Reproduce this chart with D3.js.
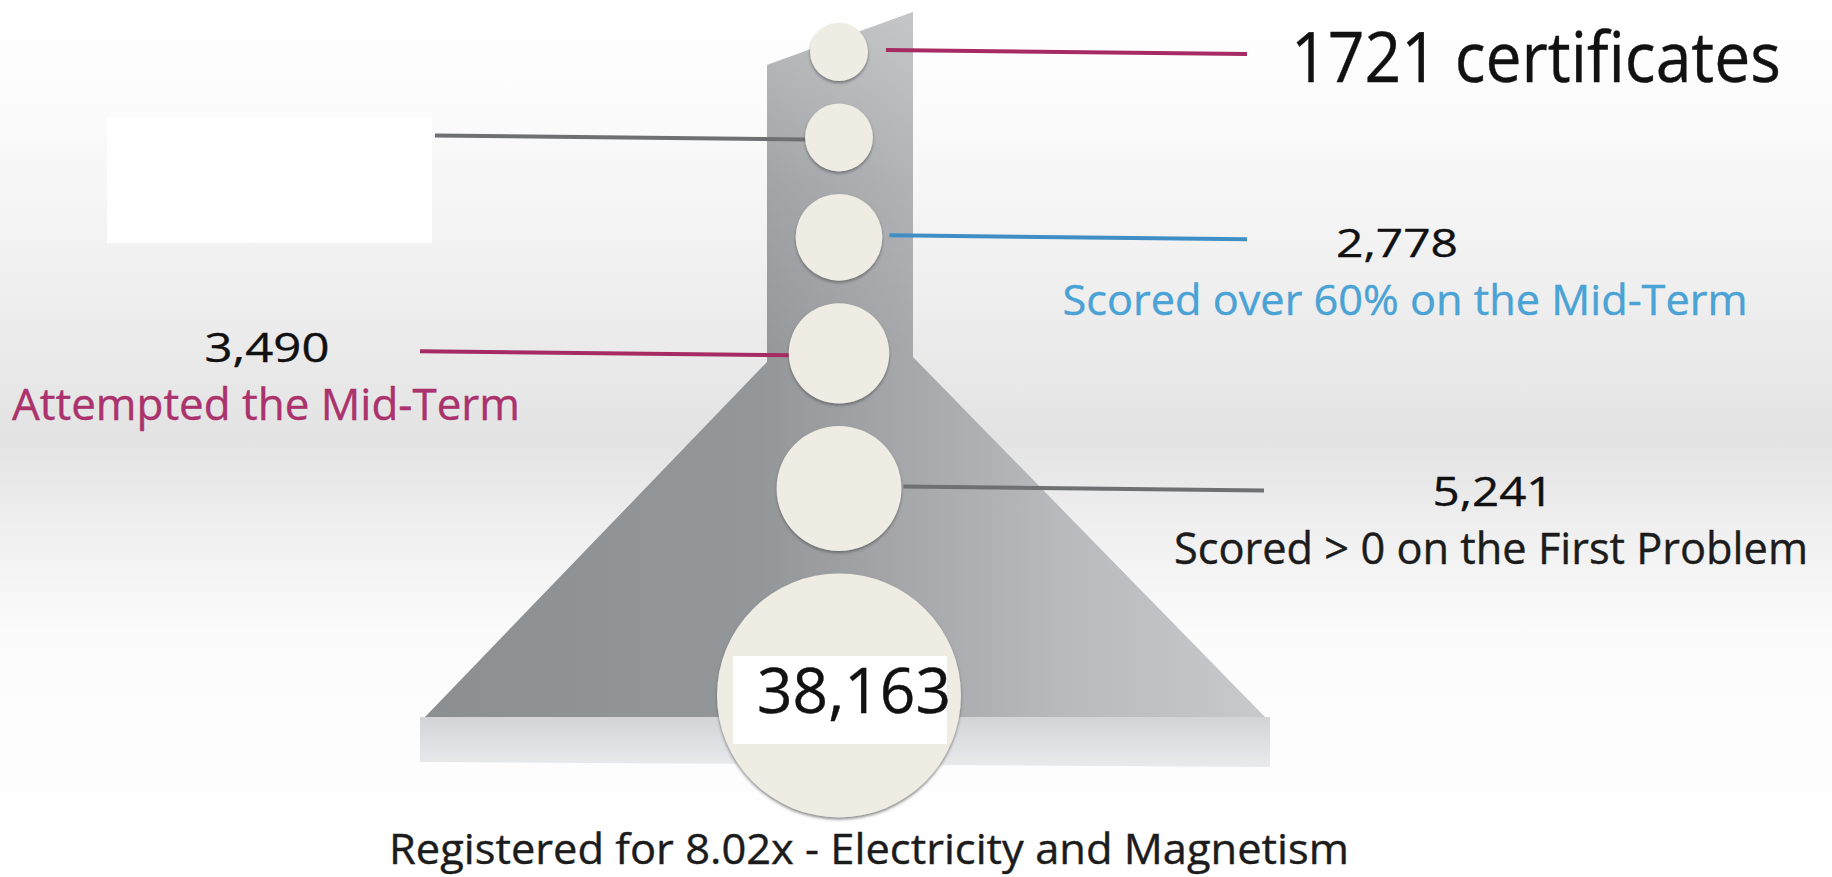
<!DOCTYPE html>
<html>
  <head>
    <meta charset="utf-8" />
    <title>8.02x funnel</title>
    <script src="https://d3js.org/d3.v7.min.js"></script>
    <style>
      html, body {
        margin: 0;
        padding: 0;
        background: #fff;
      }
      svg {
        display: block;
        font-family: "Open Sans", "Noto Sans", sans-serif;
      }
    </style>
  </head>
  <body>
    <svg width="1832" height="877"></svg>

    <script>
      // stages, top of the funnel first
      const stageCounts = [1721, 2030, 2778, 3490, 5241, 38163];
      const countLabels = ["1721 certificates", "", "2,778", "3,490", "5,241", "38,163"];
      const stageLabels = [
        "",
        "",
        "Scored over 60% on the Mid-Term",
        "Attempted the Mid-Term",
        "Scored > 0 on the First Problem",
        "Registered for 8.02x - Electricity and Magnetism"
      ];

      const magenta = "#a62b63";
      const blue = "#3f8fc6";
      const grey = "#6e7073";

      // where each stage's connector and texts sit
      const layout = [
        { side: "right", line: magenta, end: 1247, pad: 18,
          count: { x: 1291, y: 82, size: 70, w: 490, anchor: "start" } },
        { side: "left", line: grey, end: 435, pad: -2 },
        { side: "right", line: blue, end: 1247, pad: 7, count: { x: 1397, y: 257, size: 39, w: 122 },
          label: { x: 1405, y: 315, size: 42, w: 685, color: "#4aa2d5" } },
        { side: "left", line: magenta, end: 420, pad: -4, count: { x: 267, y: 362, size: 41, w: 125 },
          label: { x: 266, y: 420, size: 44, w: 508, color: "#ab326c" } },
        { side: "right", line: grey, end: 1264, pad: 2, count: { x: 1493, y: 506, size: 41, w: 121 },
          label: { x: 1491, y: 564, size: 43, w: 634, color: "#1c1c1c" } },
        { side: null, count: { x: 854, y: 713, size: 62, w: 194 },
          label: { x: 869, y: 864, size: 42, w: 960, color: "#1c1c1c" } }
      ];

      const svg = d3.select("svg");
      const width = +svg.attr("width");
      const height = +svg.attr("height");
      const defs = svg.append("defs");

      // background: white with a soft grey band across the middle
      const bg = defs.append("linearGradient").attr("id", "bg")
        .attr("gradientUnits", "userSpaceOnUse")
        .attr("x1", 0).attr("y1", 0).attr("x2", 0).attr("y2", height);
      [[0, "#ffffff"], [0.13, "#fbfbfb"], [0.33, "#efefef"], [0.5, "#e3e3e3"],
       [0.6, "#efefef"], [0.72, "#fbfbfb"], [1, "#ffffff"]]
        .forEach(([o, c]) => bg.append("stop").attr("offset", o).attr("stop-color", c));
      svg.append("rect").attr("width", width).attr("height", height).attr("fill", "url(#bg)");

      // funnel body
      const body = defs.append("linearGradient").attr("id", "body")
        .attr("gradientUnits", "userSpaceOnUse")
        .attr("x1", 425).attr("y1", 0).attr("x2", 1265).attr("y2", 0);
      [[0, "#8c8f92"], [0.4, "#94979a"], [0.55, "#a3a5a8"], [0.75, "#b8b9bd"], [1, "#c8c9cc"]]
        .forEach(([o, c]) => body.append("stop").attr("offset", o).attr("stop-color", c));

      const neckShade = defs.append("linearGradient").attr("id", "neck")
        .attr("x1", 0).attr("y1", 0).attr("x2", 0).attr("y2", 1);
      [[0, "#ffffff", 0.35], [0.5, "#ffffff", 0.12], [1, "#ffffff", 0]]
        .forEach(([o, c, a]) => neckShade.append("stop").attr("offset", o)
          .attr("stop-color", c).attr("stop-opacity", a));

      const slab = defs.append("linearGradient").attr("id", "slab")
        .attr("x1", 0).attr("y1", 0).attr("x2", 0).attr("y2", 1);
      [[0, "#d3d4d8"], [1, "#e9eaec"]]
        .forEach(([o, c]) => slab.append("stop").attr("offset", o).attr("stop-color", c));

      const line = d3.line();
      svg.append("path")
        .attr("d", line([[767, 65], [913, 12], [913, 357], [1265, 717], [425, 717], [767, 362]]) + "Z")
        .attr("fill", "url(#body)");
      svg.append("path")
        .attr("d", line([[767, 65], [913, 12], [913, 360], [767, 360]]) + "Z")
        .attr("fill", "url(#neck)");
      svg.append("path")
        .attr("d", line([[420, 717], [1270, 717], [1270, 767], [420, 762]]) + "Z")
        .attr("fill", "url(#slab)");

      // hidden label box on the left
      svg.append("rect")
        .attr("x", 107).attr("y", 117).attr("width", 325).attr("height", 126)
        .attr("fill", "#ffffff");

      // circles: size from the count, stacked down the funnel
      const r = d3.scaleLog().domain(d3.extent(stageCounts)).range([29, 122]);
      const cx = 839;
      const gap = 22.5;
      const cys = [];
      stageCounts.forEach((d, i) => {
        cys.push(i === 0 ? 23 + r(d) : cys[i - 1] + r(stageCounts[i - 1]) + gap + r(d));
      });

      const shadow = defs.append("filter").attr("id", "shadow")
        .attr("x", "-20%").attr("y", "-20%").attr("width", "140%").attr("height", "140%");
      shadow.append("feDropShadow").attr("dx", 0).attr("dy", 2).attr("stdDeviation", 1.6)
        .attr("flood-color", "#55575a").attr("flood-opacity", 0.7);

      // connectors
      svg.append("g").selectAll("line")
        .data(stageCounts.map((d, i) => i).filter(i => layout[i].side))
        .join("line")
        .attr("x1", i => layout[i].side === "right" ? cx + r(stageCounts[i]) + layout[i].pad : layout[i].end)
        .attr("x2", i => layout[i].side === "right" ? layout[i].end : cx - r(stageCounts[i]) - layout[i].pad)
        .attr("y1", i => cys[i] - 2)
        .attr("y2", i => cys[i] + 2)
        .attr("stroke", i => layout[i].line)
        .attr("stroke-width", 4);

      svg.append("g").selectAll("circle")
        .data(stageCounts)
        .join("circle")
        .attr("cx", cx)
        .attr("cy", (d, i) => cys[i])
        .attr("r", d => r(d))
        .attr("fill", "#eeece3")
        .attr("filter", "url(#shadow)");

      // white box behind the registration count
      svg.append("rect")
        .attr("x", 733).attr("y", 656).attr("width", 214).attr("height", 88)
        .attr("fill", "#ffffff");

      // texts
      const texts = svg.append("g");
      countLabels.forEach((t, i) => {
        const c = layout[i].count;
        if (!t || !c) return;
        texts.append("text")
          .attr("x", c.x).attr("y", c.y)
          .attr("text-anchor", c.anchor || "middle")
          .attr("font-size", c.size)
          .attr("fill", "#111")
          .attr("stroke", "#111")
          .attr("stroke-width", 0.4)
          .attr("textLength", c.w)
          .attr("lengthAdjust", "spacingAndGlyphs")
          .text(t);
      });
      stageLabels.forEach((t, i) => {
        const l = layout[i].label;
        if (!t || !l) return;
        texts.append("text")
          .attr("x", l.x).attr("y", l.y)
          .attr("text-anchor", "middle")
          .attr("font-size", l.size)
          .attr("fill", l.color)
          .attr("stroke", l.color)
          .attr("stroke-width", 0.4)
          .attr("textLength", l.w)
          .attr("lengthAdjust", "spacingAndGlyphs")
          .text(t);
      });
    </script>
  </body>
</html>
